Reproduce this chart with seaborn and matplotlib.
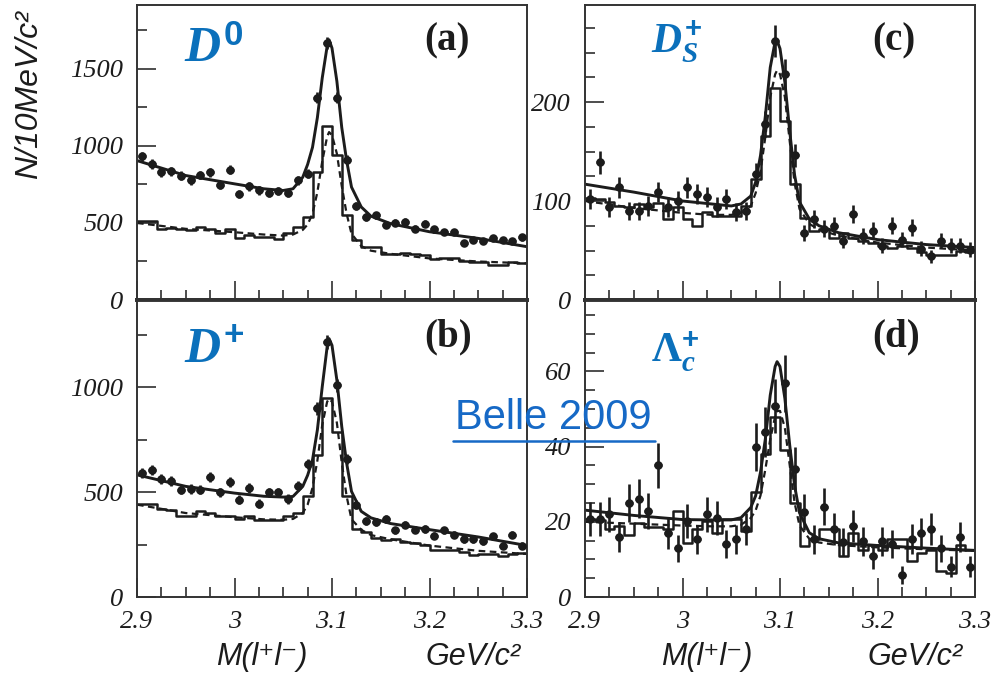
import numpy as np
import pandas as pd
import matplotlib
matplotlib.use("Agg")
import matplotlib.pyplot as plt
from matplotlib.lines import Line2D
from matplotlib.ticker import MultipleLocator
import seaborn as sns

# ---------------- data ----------------
bin_edges = np.linspace(2.9, 3.3, 41)
bin_centers = 0.5 * (bin_edges[:-1] + bin_edges[1:])

# data points (counts per 10 MeV)
pts_a = [933, 883, 830, 836, 808, 776, 812, 830, 748, 845,
         690, 737, 711, 696, 705, 696, 776, 819, 1313, 1668,
         1313, 911, 610, 539, 550, 488, 503, 507, 464, 496,
         458, 443, 443, 372, 389, 383, 404, 389, 383, 406]
pts_b = [590, 606, 562, 551, 511, 514, 511, 571, 498, 546,
         464, 519, 445, 498, 498, 467, 530, 634, 899, 1215,
         1009, 657, 440, 364, 356, 372, 318, 345, 321, 324,
         293, 318, 297, 274, 274, 266, 290, 245, 297, 245]
pts_c = [102, 139, 94, 114, 90, 90, 95, 109, 94, 100,
         114, 107, 104, 94, 102, 89, 90, 127, 178, 262,
         228, 146, 68, 82, 72, 75, 60, 87, 65, 70,
         55, 75, 61, 73, 52, 44, 60, 55, 55, 51]
pts_d = [20.8, 20.8, 22, 16, 25, 26.2, 22.9, 35, 17, 13,
         20.2, 15.3, 22, 21, 14, 15.3, 18.1, 39.9, 43.9, 50.8,
         56.8, 34, 22.6, 15.3, 24, 18, 14.6, 18.9, 14.8, 10.8,
         14.8, 14, 5.9, 15.5, 17, 18, 13, 8.1, 16, 8.1]

# MC histograms (solid steps)
hist_a = [511, 511, 464, 468, 458, 453, 475, 464, 436, 458,
          400, 421, 410, 406, 393, 432, 475, 539, 830, 1130,
          943, 550, 389, 346, 346, 299, 299, 303, 299, 292,
          264, 271, 271, 256, 249, 249, 228, 228, 249, 239]
hist_b = [445, 445, 419, 413, 388, 388, 411, 400, 384, 388,
          372, 388, 369, 366, 366, 384, 400, 479, 677, 946,
          788, 483, 324, 309, 282, 271, 274, 261, 255, 250,
          223, 226, 223, 214, 198, 207, 203, 195, 207, 210]
hist_c = [103, 102, 99, 95, 94, 97, 94, 98, 82, 94,
          82, 75, 89, 85, 85, 85, 95, 122, 166, 214,
          181, 117, 83, 70, 72, 63, 68, 63, 60, 58,
          55, 53, 55, 53, 48, 45, 45, 45, 49, 48]
hist_d = [20.8, 20.6, 18, 18.9, 16.6, 19.8, 18.7, 18.7, 18.1, 22.9,
          14.4, 18, 20.2, 17, 20.8, 20.8, 17.5, 27.8, 38, 47.9,
          39, 24.9, 13.5, 15.5, 18.1, 18.1, 10.8, 17, 12.6, 13.9,
          12.4, 15.3, 15.3, 9.5, 11.7, 12.6, 6.8, 6.3, 13.7, 12.4]

# fitted curves (solid) and MC shape (dashed), read at these masses
curve_x = [2.90, 2.95, 3.00, 3.03, 3.05, 3.06, 3.07, 3.075, 3.08, 3.085,
           3.09, 3.095, 3.097, 3.10, 3.105, 3.11, 3.115, 3.12, 3.13, 3.14,
           3.16, 3.20, 3.25, 3.30]
fit_a = [905, 808, 754, 722, 711, 722, 797, 880, 991, 1184,
         1442, 1646, 1689, 1635, 1420, 1120, 905, 733, 604, 544,
         496, 443, 400, 346]
fit_b = [582, 527, 495, 480, 476, 479, 527, 580, 653, 796,
         1002, 1191, 1231, 1199, 1033, 812, 638, 503, 408, 377,
         350, 321, 286, 245]
fit_c = [117, 109, 100, 97, 95, 97, 105, 119, 146, 186,
         235, 261, 262, 254, 220, 170, 126, 99, 82, 75,
         68, 61, 56, 53]
fit_d = [23.1, 21.7, 20.6, 20.5, 20.5, 21.1, 23.8, 26.9, 33.2, 42.1,
         53.7, 61.3, 62.6, 61.3, 52.8, 40.3, 29.6, 22.4, 17.1, 15.5,
         14.4, 13.7, 13.0, 12.4]
dash_a = [500, 462, 440, 425, 418, 425, 455, 490, 560, 700,
          900, 1060, 1090, 1070, 950, 740, 560, 430, 350, 320,
          300, 270, 250, 238]
dash_b = [440, 400, 380, 370, 368, 372, 400, 440, 520, 650,
          820, 930, 945, 930, 830, 640, 480, 370, 320, 295,
          275, 245, 220, 205]
dash_c = [100, 93, 88, 86, 86, 88, 95, 108, 130, 165,
          205, 228, 232, 228, 205, 160, 118, 92, 77, 71,
          65, 58, 53, 50]
dash_d = [20, 19.5, 19, 18.8, 18.8, 19.2, 21, 23, 27, 34,
          42, 48, 49.5, 49.5, 45, 35, 25, 19, 15.5, 14.5,
          13.8, 13.2, 12.7, 12.3]

x_ticks = [2.9, 3.0, 3.1, 3.2, 3.3]
x_ticklabels = ["2.9", "3", "3.1", "3.2", "3.3"]

panels = {
    "a": dict(pts=pts_a, hist=hist_a, fit=fit_a, dash=dash_a, ymax=1915,
              yticks=[0, 500, 1000, 1500], yminor=250,
              name=r"$D^{0}$", fs=36, nx=0.120, ny=0.807),
    "b": dict(pts=pts_b, hist=hist_b, fit=fit_b, dash=dash_b, ymax=1415,
              yticks=[0, 500, 1000], yminor=250,
              name=r"$D^{+}$", fs=36, nx=0.120, ny=0.791),
    "c": dict(pts=pts_c, hist=hist_c, fit=fit_c, dash=dash_c, ymax=298,
              yticks=[0, 100, 200], yminor=25,
              name=r"$D_{S}^{+}$", fs=30, nx=0.168, ny=0.837),
    "d": dict(pts=pts_d, hist=hist_d, fit=fit_d, dash=dash_d, ymax=79,
              yticks=[0, 20, 40, 60], yminor=5,
              name=r"$\mathbf{\Lambda}_{c}^{+}$", fs=30, nx=0.168, ny=0.788),
}

# ---------------- style ----------------
sns.set_theme(style="white")
plt.rcParams["mathtext.fontset"] = "custom"
plt.rcParams["mathtext.it"] = "Liberation Serif:italic:bold"
plt.rcParams["mathtext.rm"] = "Liberation Sans:bold"
plt.rcParams["mathtext.bf"] = "Liberation Serif:bold"
plt.rcParams["font.family"] = ["Liberation Sans", "DejaVu Sans"]

INK = "#1c1c1c"
BLUE = "#0b70bb"

fig = plt.figure(figsize=(9.96, 6.76), dpi=100)
W = 390 / 996
lefts = {"a": 137 / 996, "b": 137 / 996, "c": 585 / 996, "d": 585 / 996}
bottoms = {"a": 1 - 300 / 676, "c": 1 - 300 / 676, "b": 1 - 597 / 676, "d": 1 - 597 / 676}
heights = {"a": 295 / 676, "c": 295 / 676, "b": 297 / 676, "d": 297 / 676}

tickfont = dict(fontfamily="Liberation Serif", fontstyle="italic", fontsize=19, color=INK)

for key, p in panels.items():
    ax = fig.add_axes([lefts[key], bottoms[key], W, heights[key]])
    ax.set_facecolor("white")
    hdf = pd.DataFrame({"mass": bin_centers, "count": np.asarray(p["hist"], dtype=float)})
    # MC histogram (solid step)
    sns.histplot(data=hdf, x="mass", weights="count", binwidth=0.01, binrange=(2.9, 3.3),
                 element="step", fill=False, color=INK, linewidth=1.8, ax=ax)
    # MC shape (dashed)
    sns.lineplot(x=curve_x, y=p["dash"], color=INK, linewidth=1.6, ax=ax,
                 linestyle=(0, (3, 2)))
    # fit (solid)
    sns.lineplot(x=curve_x, y=p["fit"], color=INK, linewidth=2.1, ax=ax)
    # data points with errors
    yv = np.asarray(p["pts"], dtype=float)
    ax.errorbar(bin_centers, yv, yerr=np.sqrt(yv), xerr=0.0042, fmt="none",
                ecolor=INK, elinewidth=1.9, capsize=0, zorder=5)
    sns.scatterplot(x=bin_centers, y=yv, color=INK, s=38, marker="o",
                    edgecolor=INK, linewidth=0, ax=ax, zorder=6)

    ax.set_xlim(2.9, 3.3)
    ax.set_ylim(0, p["ymax"])
    ax.set_xlabel("")
    ax.set_ylabel("")
    ax.xaxis.set_minor_locator(MultipleLocator(0.025))
    ax.yaxis.set_minor_locator(MultipleLocator(p["yminor"]))
    ax.set_yticks(p["yticks"], labels=[str(v) for v in p["yticks"]], **tickfont)
    if key in ("b", "d"):
        ax.set_xticks(x_ticks, labels=x_ticklabels, **tickfont)
    else:
        ax.set_xticks(x_ticks, labels=[""] * len(x_ticks))
    ax.tick_params(axis="both", which="major", direction="in", length=14, width=1.1,
                   colors=INK, left=True, bottom=True, top=False, right=False)
    ax.tick_params(axis="both", which="minor", direction="in", length=7, width=1.1,
                   colors=INK, left=True, bottom=True, top=False, right=False)
    ax.tick_params(axis="y", which="major", pad=10)
    ax.tick_params(axis="x", which="major", pad=10)
    for s in ax.spines.values():
        s.set_color("#333333")
        s.set_linewidth(1.4)
    if key in ("a", "c"):
        ax.spines["bottom"].set_linewidth(2.8)
    else:
        ax.spines["top"].set_linewidth(2.8)

    ax.text(p["nx"], p["ny"], p["name"], transform=ax.transAxes, color=BLUE,
            fontsize=p["fs"], ha="left", va="baseline")
    ax.text(0.737, 0.845, f"({key})", transform=ax.transAxes, color=INK,
            fontsize=28, fontweight="bold", fontfamily="Liberation Serif",
            ha="left", va="baseline")

# axis titles
lab = dict(fontfamily=["Liberation Sans Narrow", "Liberation Sans", "DejaVu Sans"],
           fontstyle="italic", color=INK)
fig.text(29 / 996, 1 - 95 / 676, "N/10MeV/c²", rotation=90, ha="center", va="center",
         fontsize=23, **lab)
for cx_m, cx_g in ((262, 473), (707, 915)):
    fig.text(cx_m / 996, 1 - 657 / 676, "M(l⁺l⁻)", ha="center", va="center", fontsize=22, **lab)
    fig.text(cx_g / 996, 1 - 657 / 676, "GeV/c²", ha="center", va="center", fontsize=22, **lab)

# caption
fig.text(553 / 996, 1 - 418 / 676, "Belle 2009", ha="center", va="center",
         fontsize=30, color="#1669c6", fontfamily="Liberation Sans", zorder=20)
fig.add_artist(Line2D([453 / 996, 655 / 996], [1 - 441 / 676, 1 - 441 / 676],
                      color="#1669c6", linewidth=1.8, zorder=20))

fig.savefig("out.png", dpi=100, facecolor="white")
